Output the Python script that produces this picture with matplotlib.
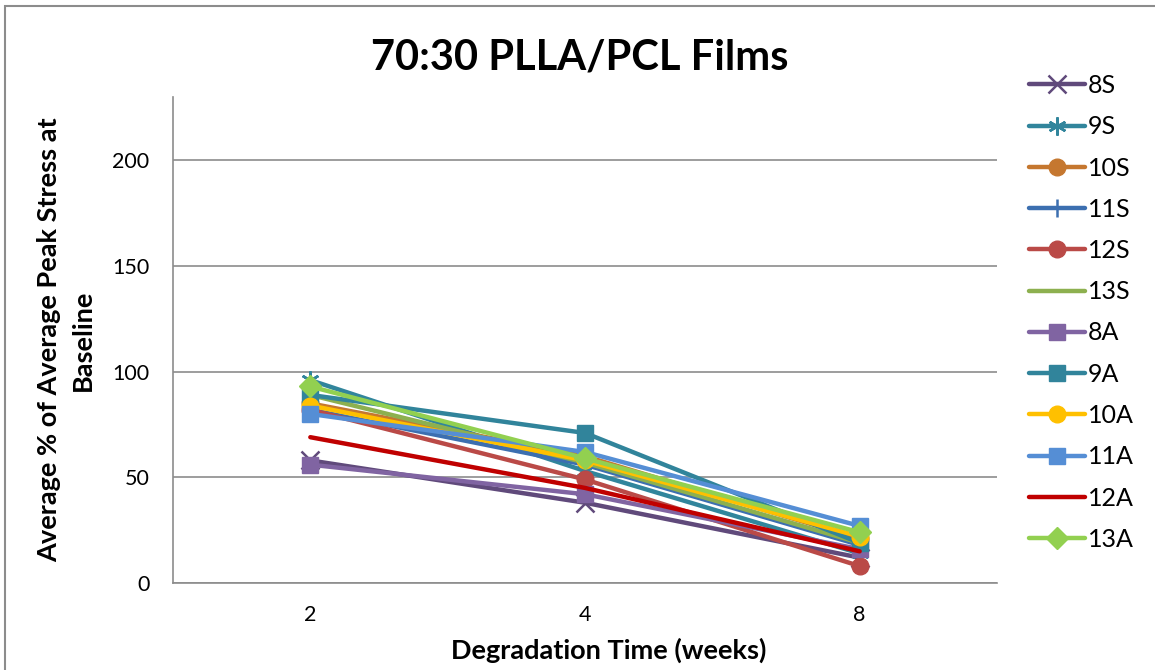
import matplotlib
matplotlib.use("Agg")
import matplotlib.pyplot as plt
from matplotlib.patches import Rectangle

plt.rcParams['font.family'] = ['Lato', 'DejaVu Sans']

weeks = ["2", "4", "8"]
series_names = ["8S", "9S", "10S", "11S", "12S", "13S",
                "8A", "9A", "10A", "11A", "12A", "13A"]

s8S = [58, 38, 12]
s9S = [96, 53, 14]
s10S = [85, 60, 21]
s11S = [82, 56, 18]
s12S = [82, 49, 8]
s13S = [89, 57, 19]
a8A = [56, 42, 16]
a9A = [89, 71, 19]
a10A = [84, 58, 22]
a11A = [80, 62, 27]
a12A = [69, 45, 15]
a13A = [93, 59, 24]

values = [s8S, s9S, s10S, s11S, s12S, s13S, a8A, a9A, a10A, a11A, a12A, a13A]

colors = ["#604A7B", "#31859C", "#C5772F", "#3C6FB0", "#BA4A47", "#8DB04F",
          "#8064A2", "#31849B", "#FFC000", "#558ED5", "#C00000", "#92D050"]
markers = ["x", (6, 2, 0), "o", "|", "o", None,
           "s", "s", "o", "s", None, "D"]

fig = plt.figure(figsize=(11.55, 6.70), dpi=100)
ax = fig.add_axes([173/1155, 87/670, 824/1155, 486/670])

x = list(range(len(weeks)))
for name, vals, c, m in zip(series_names, values, colors, markers):
    kw = dict(color=c, lw=3.2, solid_capstyle='round', label=name)
    if m is not None:
        if m in ("x", "|") or isinstance(m, tuple):
            kw.update(marker=m, markersize=13, markeredgewidth=1.8,
                      markeredgecolor=c)
        else:
            kw.update(marker=m, markersize=12 if m != "D" else 11,
                      markerfacecolor=c, markeredgecolor=c)
    ax.plot(x, vals, **kw)

ax.set_xlim(-0.5, 2.5)
ax.set_ylim(0, 230)
ax.set_yticks([0, 50, 100, 150, 200])
ax.set_xticks(x)
ax.set_xticklabels(weeks)
ax.tick_params(length=0, labelsize=15.5)
ax.tick_params(axis='x', pad=16)
ax.tick_params(axis='y', pad=17)
ax.grid(axis='y', color='#8C8C8C', lw=1.2)
ax.set_axisbelow(True)
for s in ("top", "right"):
    ax.spines[s].set_visible(False)
for s in ("left", "bottom"):
    ax.spines[s].set_color('#8C8C8C')
    ax.spines[s].set_linewidth(1.2)

ax.set_xlabel("Degradation Time (weeks)", fontsize=19.5, fontweight='bold',
              va='center')
ax.xaxis.set_label_coords((609 - 173) / 824, (583 - 650) / 486)
ax.set_ylabel("Average % of Average Peak Stress at\nBaseline", fontsize=19.5,
              fontweight='bold', linespacing=1.45, va='center')
ax.yaxis.set_label_coords((66 - 173) / 824, 0.5)

fig.text(580/1155, 1 - 58/670, "70:30 PLLA/PCL Films", fontsize=30,
         fontweight='bold', ha='center', va='center')

fig.legend(loc='upper left', bbox_to_anchor=(1019/1155, 1 - 64/670),
           frameon=False, fontsize=18, labelspacing=0.73, handlelength=2.25,
           handletextpad=0.1, borderaxespad=0)

fig.patches.append(Rectangle((5/1155, -0.1), 1.2, 1 - 6/670 + 0.1,
                             transform=fig.transFigure, fill=False,
                             edgecolor='#8C8C8C', lw=1.5))

fig.savefig("out.png", dpi=100)
